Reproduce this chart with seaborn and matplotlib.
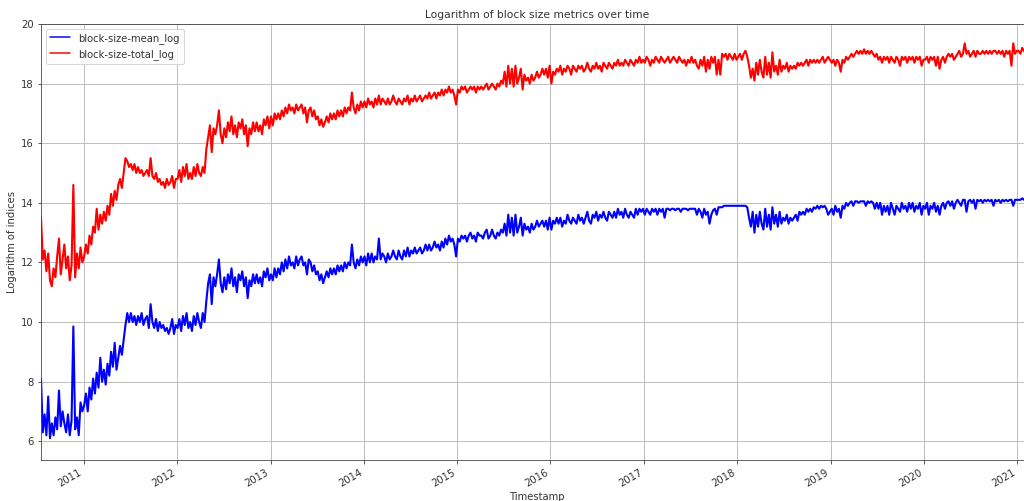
import numpy as np
import pandas as pd
import matplotlib
matplotlib.use("Agg")
import matplotlib.pyplot as plt
import matplotlib.dates as mdates
import seaborn as sns

# Weekly readings, 2010-07-18 .. 2021-03-03
mean_2010 = [8.1, 6.3, 6.9, 6.2, 7.5, 6.1, 6.6, 6.2, 6.8, 6.4, 7.7, 6.5, 7.0, 6.6, 6.3, 6.9, 6.2, 6.7, 9.85, 6.4, 6.8, 6.2, 7.3, 7.0]
total_2010 = [13.5, 12.1, 12.4, 11.7, 12.3, 11.4, 11.2, 11.8, 11.5, 12.2, 12.8, 11.6, 12.1, 12.6, 11.8, 12.2, 11.4, 11.9, 14.6, 11.5, 12.3, 11.8, 12.5, 12.0]

mean_2011 = [7.2, 7.6, 7.0, 7.8, 7.4, 8.1, 7.6, 8.3, 7.8, 8.8, 8.0, 8.4, 7.9, 8.6, 8.2, 9.0, 8.5,
             9.3, 8.4, 8.8, 9.2, 8.9, 9.4, 9.9, 10.3, 10.0, 10.3, 10.0, 10.2, 9.9, 10.2, 10.0, 10.3, 9.9, 10.1,
             10.2, 9.8, 10.6, 10.0, 9.8, 10.1, 9.7, 10.0, 9.8, 9.9, 9.7, 9.8, 9.6, 9.8, 10.1, 9.6, 9.9]
total_2011 = [12.2, 12.6, 12.3, 12.9, 12.6, 13.2, 13.0, 13.8, 13.1, 13.6, 13.3, 13.7, 13.4, 13.9, 13.6, 14.3, 13.9,
              14.4, 14.1, 14.6, 14.8, 14.5, 15.0, 15.5, 15.4, 15.2, 15.3, 15.1, 15.3, 15.0, 15.2, 15.0, 15.1, 14.9, 15.0,
              15.1, 14.9, 15.5, 14.9, 14.8, 15.0, 14.7, 14.8, 14.6, 14.7, 14.5, 14.8, 14.6, 14.7, 14.9, 14.5, 14.8]

mean_2012 = [9.8, 10.1, 9.7, 10.2, 9.9, 10.3, 9.8, 10.0, 9.7, 10.2, 9.9, 10.3, 10.0, 9.8, 10.3, 10.0, 10.7,
             11.3, 11.6, 10.6, 11.5, 11.2, 11.6, 12.1, 11.3, 11.0, 11.5, 11.1, 11.6, 11.3, 11.8, 11.2, 11.5, 11.0, 11.6,
             11.4, 11.7, 11.2, 11.5, 10.8, 11.4, 11.2, 11.6, 11.3, 11.6, 11.3, 11.5, 11.2, 11.7, 11.5, 11.8, 11.4]
total_2012 = [14.8, 15.1, 14.7, 15.2, 14.9, 15.3, 14.8, 15.0, 14.8, 15.2, 14.9, 15.3, 15.0, 14.9, 15.2, 15.0, 15.8,
              16.2, 16.6, 15.7, 16.5, 16.3, 16.6, 17.1, 16.3, 16.0, 16.5, 16.2, 16.7, 16.4, 16.9, 16.3, 16.6, 16.2, 16.7,
              16.5, 16.8, 16.3, 16.6, 15.9, 16.5, 16.3, 16.7, 16.4, 16.7, 16.4, 16.6, 16.3, 16.8, 16.6, 16.9, 16.5]

mean_2013 = [11.6, 11.4, 11.8, 11.5, 11.8, 11.6, 12.0, 11.7, 12.1, 11.8, 12.2, 11.9, 12.0, 11.8, 12.2, 11.9, 12.1,
             12.2, 11.9, 12.0, 11.6, 12.1, 12.0, 11.7, 11.9, 11.6, 11.7, 11.4, 11.6, 11.3, 11.5, 11.7, 11.5, 11.8, 11.6,
             11.8, 11.6, 11.9, 11.7, 11.9, 11.7, 12.0, 11.8, 12.0, 11.9, 12.6, 12.0, 11.8, 12.1, 11.9, 12.2, 12.0]
total_2013 = [16.9, 16.6, 17.0, 16.8, 17.0, 16.8, 17.1, 16.9, 17.2, 17.0, 17.3, 17.1, 17.2, 17.0, 17.3, 17.1, 17.2,
              17.3, 17.0, 17.2, 16.7, 17.1, 17.2, 16.9, 17.1, 16.8, 16.9, 16.6, 16.8, 16.55, 16.7, 16.9, 16.7, 17.0, 16.8,
              17.0, 16.8, 17.1, 16.9, 17.1, 16.9, 17.2, 17.0, 17.2, 17.1, 17.7, 17.2, 17.0, 17.3, 17.1, 17.4, 17.2]

mean_2014 = [12.2, 11.9, 12.3, 12.0, 12.3, 12.0, 12.2, 12.1, 12.8, 12.1, 12.3, 12.2, 12.0, 12.3, 12.1, 12.2, 12.4,
             12.2, 12.1, 12.4, 12.2, 12.1, 12.4, 12.2, 12.5, 12.2, 12.4, 12.3, 12.5, 12.3, 12.4, 12.5, 12.3, 12.4, 12.6,
             12.4, 12.6, 12.4, 12.5, 12.7, 12.5, 12.6, 12.4, 12.7, 12.5, 12.8, 12.6, 12.9, 12.7, 12.8, 12.6, 12.2]
total_2014 = [17.4, 17.2, 17.5, 17.3, 17.4, 17.2, 17.5, 17.3, 17.6, 17.3, 17.5, 17.4, 17.3, 17.5, 17.3, 17.4, 17.6,
              17.4, 17.3, 17.5, 17.4, 17.3, 17.5, 17.4, 17.6, 17.3, 17.5, 17.4, 17.6, 17.4, 17.5, 17.6, 17.4, 17.5, 17.6,
              17.5, 17.7, 17.5, 17.6, 17.7, 17.5, 17.7, 17.6, 17.8, 17.6, 17.8, 17.7, 17.9, 17.7, 17.8, 17.6, 17.3]

mean_2015 = [12.8, 12.7, 12.9, 12.8, 12.9, 12.7, 12.9, 13.0, 12.8, 12.9, 12.7, 13.0, 12.9, 12.9, 12.8, 13.0, 13.1,
             12.8, 12.9, 13.1, 12.9, 12.8, 13.0, 12.9, 13.1, 13.0, 13.3, 12.9, 13.6, 13.0, 13.5, 12.9, 13.6, 13.0, 13.2,
             13.5, 12.9, 13.3, 13.1, 13.2, 13.0, 13.3, 13.1, 13.2, 13.4, 13.2, 13.3, 13.4, 13.2, 13.4, 13.1, 13.5]
total_2015 = [17.8, 17.7, 17.9, 17.8, 17.9, 17.7, 17.8, 17.9, 17.8, 17.9, 17.7, 17.9, 17.8, 17.9, 17.8, 17.9, 18.0,
              17.8, 17.9, 18.0, 17.9, 17.8, 18.0, 17.9, 18.1, 18.0, 18.4, 17.9, 18.6, 18.0, 18.5, 17.9, 18.6, 18.0, 18.2,
              18.5, 17.8, 18.3, 18.1, 18.2, 18.0, 18.3, 18.1, 18.2, 18.4, 18.2, 18.3, 18.5, 18.3, 18.5, 18.2, 18.6]

mean_2016 = [13.1, 13.4, 13.3, 13.5, 13.3, 13.5, 13.2, 13.4, 13.3, 13.6, 13.4, 13.3, 13.5, 13.4, 13.3, 13.6, 13.4,
             13.5, 13.3, 13.5, 13.7, 13.4, 13.3, 13.6, 13.5, 13.7, 13.4, 13.6, 13.5, 13.7, 13.5, 13.4, 13.7, 13.6, 13.5,
             13.7, 13.5, 13.8, 13.6, 13.7, 13.5, 13.8, 13.6, 13.5, 13.7, 13.6, 13.5, 13.8, 13.6, 13.8, 13.7, 13.8]
total_2016 = [18.0, 18.4, 18.3, 18.5, 18.4, 18.6, 18.3, 18.5, 18.4, 18.6, 18.5, 18.3, 18.6, 18.5, 18.4, 18.6, 18.5,
              18.6, 18.4, 18.5, 18.7, 18.5, 18.4, 18.6, 18.5, 18.7, 18.5, 18.6, 18.4, 18.7, 18.6, 18.5, 18.7, 18.6, 18.5,
              18.7, 18.6, 18.8, 18.6, 18.7, 18.6, 18.8, 18.7, 18.6, 18.8, 18.7, 18.6, 18.8, 18.7, 18.9, 18.7, 18.8]

mean_2017 = [13.6, 13.8, 13.7, 13.6, 13.8, 13.7, 13.8, 13.6, 13.8, 13.7, 13.8, 13.5, 13.8, 13.8, 13.75, 13.8, 13.8,
             13.75, 13.8, 13.8, 13.7, 13.8, 13.8, 13.8, 13.75, 13.8, 13.8, 13.8, 13.8, 13.6, 13.8, 13.7, 13.5, 13.8, 13.6,
             13.7, 13.3, 13.6, 13.75, 13.8, 13.6, 13.85, 13.85, 13.85, 13.9, 13.9, 13.9, 13.9, 13.9, 13.9, 13.9, 13.9]
total_2017 = [18.7, 18.9, 18.8, 18.6, 18.8, 18.7, 18.9, 18.8, 18.7, 18.9, 18.8, 18.7, 18.8, 18.9, 18.7, 18.8, 18.9,
              18.8, 18.7, 18.9, 18.8, 18.7, 18.8, 18.6, 18.8, 18.7, 18.9, 18.7, 18.8, 18.6, 18.5, 18.8, 18.6, 18.9, 18.4,
              18.8, 18.5, 18.9, 18.7, 18.9, 18.3, 18.8, 18.3, 19.0, 18.9, 19.0, 18.8, 19.0, 18.9, 18.8, 19.0, 18.8]

mean_2018 = [13.9, 13.9, 13.9, 13.9, 13.9, 13.85, 13.5, 13.2, 13.7, 13.0, 13.6, 13.2, 13.7, 13.3, 13.1, 13.8, 13.2,
             13.6, 13.1, 13.85, 13.3, 13.6, 13.2, 13.7, 13.3, 13.5, 13.4, 13.6, 13.3, 13.5, 13.4, 13.5, 13.6, 13.4, 13.7,
             13.6, 13.7, 13.6, 13.8, 13.7, 13.8, 13.7, 13.85, 13.8, 13.9, 13.8, 13.9, 13.85, 13.9, 13.8, 13.6, 13.7]
total_2018 = [18.9, 19.0, 18.8, 19.0, 19.1, 18.9, 18.6, 18.2, 18.5, 18.1, 18.7, 18.3, 18.8, 18.4, 18.2, 18.9, 18.3,
              18.7, 18.2, 19.05, 18.4, 18.6, 18.3, 18.8, 18.4, 18.6, 18.5, 18.7, 18.4, 18.6, 18.5, 18.6, 18.5, 18.7, 18.6,
              18.7, 18.6, 18.7, 18.8, 18.6, 18.8, 18.7, 18.8, 18.7, 18.8, 18.7, 18.8, 18.9, 18.7, 18.8, 18.9, 18.8]

mean_2019 = [13.8, 13.6, 13.9, 13.7, 13.8, 13.5, 13.9, 13.8, 14.0, 13.9, 14.0, 14.05, 13.9, 14.05, 14.05, 14.0, 14.05,
             14.05, 14.05, 13.9, 14.05, 14.0, 14.05, 14.0, 13.8, 14.0, 13.8, 14.0, 13.6, 13.9, 13.7, 13.9, 13.6, 14.0, 13.8,
             13.6, 13.9, 13.8, 13.7, 14.0, 13.8, 13.9, 13.7, 14.0, 13.8, 14.0, 13.7, 13.9, 13.8, 14.0, 13.6, 13.9]
total_2019 = [18.7, 18.8, 18.6, 18.8, 18.7, 18.4, 18.8, 18.7, 18.9, 18.8, 18.9, 19.0, 18.9, 19.0, 19.1, 19.0, 19.1,
              19.0, 19.15, 19.0, 19.1, 19.0, 19.1, 19.0, 18.9, 19.0, 18.8, 18.9, 18.7, 18.9, 18.8, 18.9, 18.7, 18.9, 18.8,
              18.7, 18.9, 18.8, 18.6, 18.9, 18.8, 18.9, 18.7, 18.9, 18.8, 18.9, 18.7, 18.9, 18.8, 18.9, 18.6, 18.8]

mean_2020 = [13.8, 14.0, 13.6, 13.9, 13.8, 14.0, 13.7, 13.9, 13.6, 13.9, 14.0, 13.8, 14.0, 14.05, 13.9, 14.05, 13.8,
             14.0, 14.1, 14.0, 13.9, 14.1, 14.1, 13.7, 14.05, 14.1, 14.0, 14.1, 13.8, 14.1, 14.05, 14.1, 14.0, 14.1, 14.05,
             14.1, 14.05, 14.1, 13.9, 14.1, 14.05, 14.1, 14.0, 14.1, 14.05, 14.1, 14.05, 14.1, 14.1, 13.9, 14.1, 14.1]
total_2020 = [18.8, 18.9, 18.7, 18.9, 18.8, 18.9, 18.6, 18.9, 18.5, 18.8, 18.9, 18.7, 18.9, 19.0, 18.9, 19.0, 18.8,
              18.9, 19.0, 19.1, 18.9, 19.0, 19.35, 19.0, 19.1, 18.9, 19.0, 19.1, 18.9, 19.1, 19.0, 19.0, 19.1, 19.0, 19.1,
              19.0, 19.1, 19.0, 19.1, 19.1, 19.0, 19.1, 19.0, 19.1, 18.9, 19.1, 19.0, 19.1, 18.6, 19.35, 19.0, 19.1]

mean_2021 = [14.1, 14.1, 14.15, 14.1, 14.15, 14.1, 14.15, 14.15, 14.15]
total_2021 = [19.1, 19.0, 19.2, 19.1, 19.0, 19.15, 19.1, 19.2, 19.1]

mean_log = (mean_2010 + mean_2011 + mean_2012 + mean_2013 + mean_2014 + mean_2015 +
            mean_2016 + mean_2017 + mean_2018 + mean_2019 + mean_2020 + mean_2021)
total_log = (total_2010 + total_2011 + total_2012 + total_2013 + total_2014 + total_2015 +
             total_2016 + total_2017 + total_2018 + total_2019 + total_2020 + total_2021)

start_date = "2010-07-18"
end_date = "2021-03-03"

df_mean = pd.DataFrame({
    "Timestamp": pd.date_range(start_date, end_date, periods=len(mean_log)),
    "value": mean_log})
df_total = pd.DataFrame({
    "Timestamp": pd.date_range(start_date, end_date, periods=len(total_log)),
    "value": total_log})

sns.set_style("ticks", {"axes.grid": True, "grid.color": "0.75",
                        "axes.edgecolor": "0.25", "text.color": "0.2",
                        "xtick.color": "0.2", "ytick.color": "0.2",
                        "axes.labelcolor": "0.2"})
plt.rcParams["font.family"] = ["DejaVu Sans"]
plt.rcParams["font.size"] = 10
plt.rcParams["xtick.major.size"] = 3.5
plt.rcParams["ytick.major.size"] = 3.5

fig = plt.figure(figsize=(1024 / 72, 501 / 72), dpi=72)
ax = fig.add_axes([41 / 1024, 41 / 501, 992 / 1024, 436 / 501])

sns.lineplot(data=df_mean, x="Timestamp", y="value", ax=ax, color="blue",
             linewidth=2.1, label="block-size-mean_log")
sns.lineplot(data=df_total, x="Timestamp", y="value", ax=ax, color="red",
             linewidth=2.1, label="block-size-total_log")

ax.set_xlim(df_mean["Timestamp"].iloc[0], df_mean["Timestamp"].iloc[-1])
ax.set_ylim(5.37, 20.0)
ax.set_yticks([6, 8, 10, 12, 14, 16, 18, 20])
ax.xaxis.set_major_locator(mdates.YearLocator())
ax.xaxis.set_major_formatter(mdates.DateFormatter("%Y"))
plt.setp(ax.get_xticklabels(), rotation=30, ha="right", fontsize=10)
plt.setp(ax.get_yticklabels(), fontsize=10)
ax.set_title("Logarithm of block size metrics over time", fontsize=10.8)
ax.set_xlabel("Timestamp", fontsize=10)
ax.set_ylabel("Logarithm of indices", fontsize=10)
ax.grid(True, color="0.75", linewidth=1.0)
leg = ax.legend(loc="upper left", fontsize=10, frameon=True)
for line in leg.get_lines():
    line.set_linewidth(1.5)

fig.savefig("out.png", dpi=72)
